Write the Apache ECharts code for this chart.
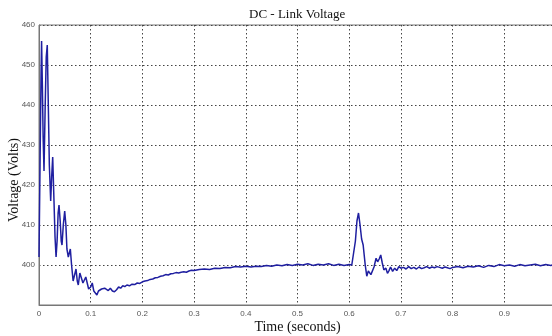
<!DOCTYPE html>
<html>
<head>
<meta charset="utf-8">
<style>
  html, body { margin: 0; padding: 0; background: #fff; }
  #chart { width: 552px; height: 336px; }
</style>
<script src="https://cdn.jsdelivr.net/npm/echarts@6/dist/echarts.min.js"></script>
</head>
<body>
<div id="chart"></div>
<script>
// time (s) and DC link voltage (V)
const time = [
  0, 0.002, 0.004, 0.005, 0.0065, 0.008, 0.0097, 0.012, 0.014, 0.016,
  0.018, 0.02, 0.0226, 0.0245, 0.0265, 0.029, 0.031, 0.033, 0.035, 0.037,
  0.0387, 0.041, 0.043, 0.0445, 0.047, 0.0497, 0.052, 0.054, 0.0567, 0.0606,
  0.063, 0.066, 0.068, 0.0716, 0.074, 0.076, 0.079, 0.0826, 0.085, 0.088,
  0.0905, 0.0935, 0.096, 0.099, 0.1, 0.103, 0.106, 0.109, 0.112, 0.115,
  0.118, 0.121, 0.124, 0.127, 0.13, 0.134, 0.138, 0.142, 0.146, 0.15,
  0.154, 0.158, 0.162, 0.166, 0.17, 0.175, 0.18, 0.185, 0.19, 0.195,
  0.2, 0.205, 0.21, 0.215, 0.22, 0.225, 0.23, 0.235, 0.24, 0.245,
  0.25, 0.255, 0.26, 0.265, 0.27, 0.275, 0.28, 0.285, 0.29, 0.295,
  0.3, 0.31, 0.32, 0.33, 0.34, 0.35, 0.36, 0.37, 0.38, 0.39,
  0.4, 0.41, 0.42, 0.43, 0.44, 0.45, 0.46, 0.47, 0.48, 0.49,
  0.5, 0.51, 0.52, 0.53, 0.54, 0.55, 0.56, 0.57, 0.58, 0.59,
  0.6, 0.605, 0.608, 0.612, 0.615, 0.618, 0.621, 0.624, 0.627, 0.631,
  0.634, 0.637, 0.639, 0.642, 0.645, 0.648, 0.652, 0.655, 0.658, 0.661,
  0.664, 0.667, 0.671, 0.674, 0.677, 0.68, 0.684, 0.688, 0.692, 0.696,
  0.7, 0.705, 0.71, 0.715, 0.72, 0.725, 0.73, 0.735, 0.74, 0.745,
  0.75, 0.755, 0.76, 0.765, 0.77, 0.775, 0.78, 0.785, 0.79, 0.795,
  0.8, 0.81, 0.82, 0.83, 0.84, 0.85, 0.86, 0.87, 0.88, 0.89,
  0.9, 0.91, 0.92, 0.93, 0.94, 0.95, 0.96, 0.97, 0.98, 0.99, 1.0
];
const voltage = [
  402, 425, 448, 456, 445, 432, 423.5, 440, 452, 455,
  440, 425, 416, 422, 427, 416, 407, 402, 406, 413,
  415, 411, 406, 405, 410, 413.5, 410, 404, 402, 404,
  400, 396, 395.5, 399, 396, 395, 398, 398, 395.5, 395,
  397, 396.5, 394, 393.5, 394.5, 395.5, 393.5, 393, 392.5, 393.5,
  393.2, 394, 393.5, 394.2, 393.8, 393.6, 394.2, 393.5, 393.3, 393.8,
  394.5, 394.2, 394.8, 394.6, 395, 394.8, 395.2, 395.1, 395.5, 395.4,
  395.8, 396, 396.1, 396.4, 396.5, 396.8, 396.9, 397.2, 397.3, 397.6,
  397.5, 397.8, 397.9, 398.1, 398, 398.2, 398.3, 398.2, 398.5, 398.7,
  398.6, 398.9, 399, 398.9, 399.2, 399.1, 399.4, 399.3, 399.6, 399.5,
  399.7, 399.5, 399.7, 399.6, 399.9, 399.7, 400, 399.8, 400.1, 399.9,
  400.2, 400, 400.3, 399.9, 400.2, 400, 400.3, 399.9, 400.2, 399.9,
  400.1, 400, 400.5, 406, 411, 413, 410, 406.5, 405, 400,
  397.2, 398.5, 399, 397.6, 398, 399.5, 401.7, 400.8, 401.5, 402.5,
  400.5, 398.8, 399.2, 397.9, 398.6, 399.5, 398.4, 399.2, 398.6, 399.6,
  399.2, 399.4, 399, 399.6, 399.1, 399.4, 399, 399.5, 399.1, 399.3,
  399.6, 399.2, 399.5, 399.3, 399.6, 399.4, 399.2, 399.5, 399.3, 399.1,
  399.4, 399.6, 399.3, 399.7, 399.5, 399.8, 399.4, 399.9, 399.6, 400.1,
  399.8, 400, 399.7, 400.1, 399.8, 400, 400.2, 399.8, 400.1, 399.9, 400.2
];

(() => {
  let myChart = echarts.init(document.querySelector("#chart"));
  let serif = "Liberation Serif";
  let sans = "Liberation Sans";
  let gridLine = {
    show: true,
    lineStyle: { color: "#444", type: [1.5, 2.5], width: 1 },
  };
  let option = {
    animation: false,
    title: {
      text: "DC - Link Voltage",
      left: 244,
      top: 3,
      textStyle: { fontFamily: serif, fontSize: 13, fontWeight: "normal", color: "#111" },
    },
    grid: {
      left: 39,
      top: 25,
      right: -4,
      bottom: 31,
      outerBoundsMode: "none",
      containLabel: false,
      show: true,
      borderColor: "#777",
      borderWidth: 1,
    },
    xAxis: {
      type: "value",
      min: 0,
      max: 1,
      interval: 0.1,
      name: "Time (seconds)",
      nameLocation: "middle",
      nameGap: 15,
      nameMoveOverlap: false,
      nameTextStyle: { fontFamily: serif, fontSize: 14, color: "#111" },
      axisLine: { show: true, onZero: false, lineStyle: { color: "#777" } },
      axisTick: { show: false },
      axisLabel: { fontFamily: sans, fontSize: 8, color: "#555", margin: 5, showMaxLabel: false },
      splitLine: gridLine,
    },
    yAxis: {
      type: "value",
      min: 390,
      max: 460,
      interval: 10,
      name: "Voltage (Volts)",
      nameLocation: "middle",
      nameGap: 18,
      nameMoveOverlap: false,
      nameTextStyle: { fontFamily: serif, fontSize: 14, color: "#111", padding: [0, 30, 0, 0] },
      axisLine: { show: true, lineStyle: { color: "#777" } },
      axisTick: { show: false },
      axisLabel: { fontFamily: sans, fontSize: 8, color: "#555", margin: 4, showMinLabel: false },
      splitLine: gridLine,
    },
    series: [
      {
        type: "line",
        data: time.map((t, i) => [t, voltage[i]]),
        showSymbol: false,
        lineStyle: { color: "#1f1fa0", width: 1.5 },
      },
    ],
  };
  myChart.setOption(option);
})();
</script>
</body>
</html>
